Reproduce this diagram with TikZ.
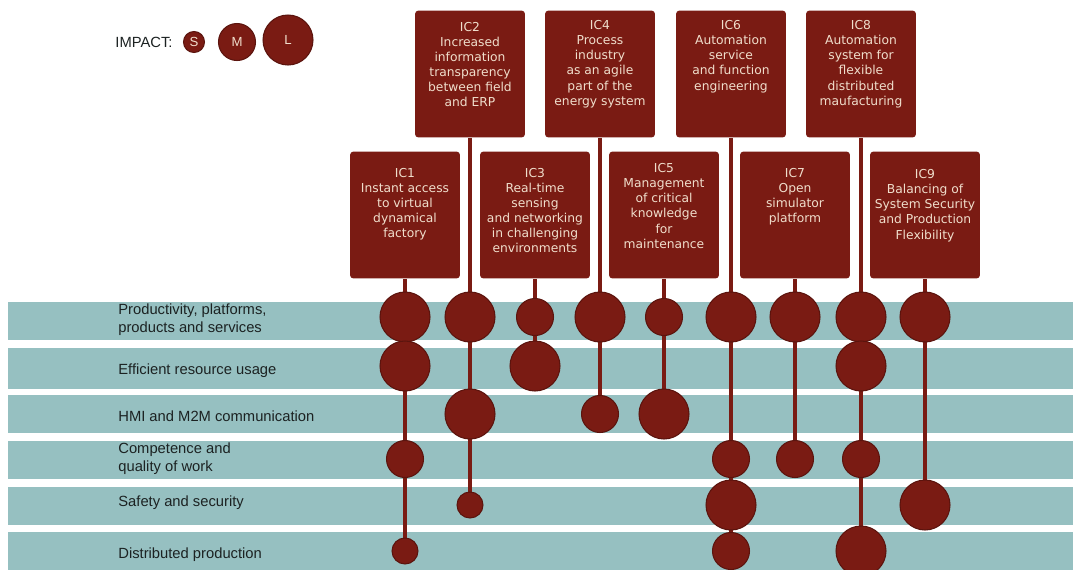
\documentclass[tikz,border=0pt]{standalone}
\usepackage{fontspec}
\setmainfont{Liberation Sans}
\newfontfamily\icfont{DejaVu Sans}
\usepackage{tikz}
\usetikzlibrary{positioning,calc}
\usepackage{xcolor}

\definecolor{icred}{RGB}{122,27,19}
\definecolor{icband}{RGB}{150,192,193}
\definecolor{iccream}{RGB}{240,222,204}
\definecolor{labgray}{RGB}{28,34,34}

% box text: top offset, lines
\newcommand{\ictext}[2]{\parbox[c][2.54cm][t]{2.2cm}{\centering\icfont\fontsize{7}{8.6}\selectfont\vspace*{#1}#2}}

\begin{document}
\begin{tikzpicture}[x=0.02cm, y=-0.02cm,
    icbox/.style={fill=icred, rounded corners=2pt, inner sep=0pt, text=iccream},
    impS/.style={circle, fill=icred, draw=icred!75!black, line width=0.6pt, minimum size=0.52cm, inner sep=0pt},
    impM/.style={impS, minimum size=0.74cm},
    impL/.style={impS, minimum size=1cm},
    leg/.style={text=iccream, font=\fontsize{7.5}{9}\selectfont},
    link/.style={icred, line width=2.2pt},
    rowlab/.style={anchor=west, align=left, inner sep=0pt, text=labgray, font=\fontsize{8.4}{10.2}\selectfont}]
    \useasboundingbox (0,0) rectangle (1073,569);
    \clip (0,0) rectangle (1073,569);

    % Bands
    \foreach \ya/\yb in {302/340, 348/389, 395/433, 441/479, 487/525, 532/575}
        \fill[icband] (8,\ya) rectangle (1073,\yb);

    % Row labels
    \node[rowlab] (row1) at (118,320) {Productivity, platforms,\\products and services};
    \node[rowlab] (row2) at (118,371) {Efficient resource usage};
    \node[rowlab] (row3) at (118,416) {HMI and M2M communication};
    \node[rowlab] (row4) at (118,459) {Competence and\\quality of work};
    \node[rowlab] (row5) at (118,503) {Safety and security};
    \node[rowlab] (row6) at (118,555) {Distributed production};

    % Legend
    \node[text=labgray, font=\fontsize{8.4}{10}\selectfont] (impact) at (144,42) {IMPACT:};
    \node[impS, leg, minimum size=0.42cm] (legS) at (194,42) {S};
    \node[impM, leg] (legM) at (237,42) {M};
    \node[impL, leg] (legL) at (288,40) {L};

    % Innovation boxes, top row
    \node[icbox] (ic2) at (470,74) {\ictext{0.23cm}{IC2\\Increased\\information\\transparency\\between field\\and ERP}};
    \node[icbox] (ic4) at (600,74) {\ictext{0.2cm}{IC4\\Process\\industry\\as an agile\\part of the\\energy system}};
    \node[icbox] (ic6) at (731,74) {\ictext{0.2cm}{IC6\\Automation\\service\\and function\\engineering}};
    \node[icbox] (ic8) at (861,74) {\ictext{0.2cm}{IC8\\Automation\\system for\\flexible\\distributed\\maufacturing}};

    % Innovation boxes, bottom row
    \node[icbox] (ic1) at (405,215) {\ictext{0.33cm}{IC1\\Instant access\\to virtual\\dynamical\\factory}};
    \node[icbox] (ic3) at (535,215) {\ictext{0.33cm}{IC3\\Real-time\\sensing\\and networking\\in challenging\\environments}};
    \node[icbox] (ic5) at (664,215) {\ictext{0.24cm}{IC5\\Management\\of critical\\knowledge\\for\\maintenance}};
    \node[icbox] (ic7) at (795,215) {\ictext{0.33cm}{IC7\\Open\\simulator\\platform}};
    \node[icbox] (ic9) at (925,215) {\ictext{0.36cm}{IC9\\Balancing of\\System Security\\and Production\\Flexibility}};

    % Row levels
    \foreach \r/\y in {1/317, 2/366, 3/414, 4/459, 5/505, 6/551}
        \coordinate (y\r) at (0,\y);

    % Impact circles per box
    \foreach \c/\last/\hits in {1/6/{1/L,2/L,4/M,6/S}, 2/5/{1/L,3/L,5/S}, 3/2/{1/M,2/L},
        4/3/{1/L,3/M}, 5/3/{1/M,3/L}, 6/6/{1/L,4/M,5/L,6/M}, 7/4/{1/L,4/M},
        8/6/{1/L,2/L,4/M,6/L}, 9/5/{1/L,5/L}} {
        \draw[link] (ic\c.south) -- (ic\c |- y\last);
        \foreach \r/\s in \hits
            \node[imp\s] (c\c-\r) at (ic\c |- y\r) {};
    }
\end{tikzpicture}
\end{document}
